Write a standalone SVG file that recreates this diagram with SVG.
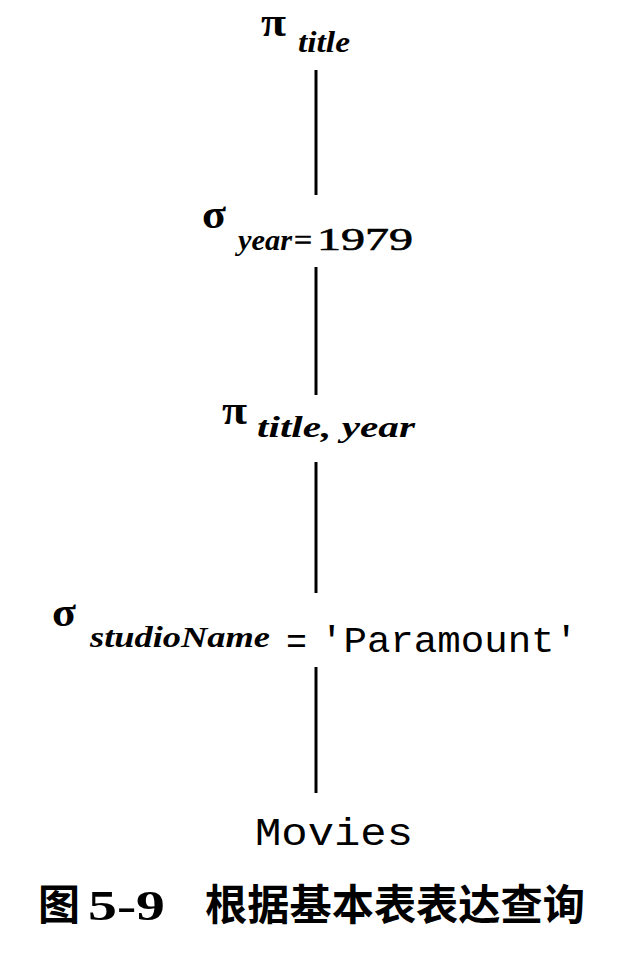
<svg xmlns="http://www.w3.org/2000/svg" width="622" height="962" viewBox="0 0 622 962">
<style>
.op{font-family:"Liberation Serif",serif;font-weight:bold;fill:#000}
.sub{font-family:"Liberation Serif",serif;font-style:italic;font-weight:bold;fill:#000}
.num{font-family:"Liberation Serif",serif;font-weight:normal;fill:#000;stroke:#000;stroke-width:0.6}
.mono{font-family:"Liberation Mono",monospace;fill:#000}
.cap{font-family:"Noto Sans CJK SC",sans-serif;font-weight:bold;fill:#000}
.capn{font-family:"Liberation Serif",serif;font-weight:bold;fill:#000}
.edge{stroke:#000;stroke-width:3;fill:none}
</style>
<rect width="622" height="962" fill="#fff"/>
<g id="connectors">
<line class="edge" x1="316" y1="70" x2="316" y2="195"/>
<line class="edge" x1="316" y1="267" x2="316" y2="395"/>
<line class="edge" x1="316" y1="462" x2="316" y2="593"/>
<line class="edge" x1="316" y1="667" x2="316" y2="793"/>
</g>
<g id="pi-title">
<text class="op" x="261" y="36" font-size="40" textLength="25" lengthAdjust="spacingAndGlyphs">π</text>
<text class="sub" x="298" y="52" font-size="30" textLength="52" lengthAdjust="spacingAndGlyphs">title</text>
</g>
<g id="sigma-year">
<text class="op" x="202" y="228" font-size="40" textLength="24" lengthAdjust="spacingAndGlyphs">σ</text>
<text class="sub" x="238" y="250" font-size="30" textLength="54" lengthAdjust="spacingAndGlyphs">year</text>
<text class="num" x="294" y="250" font-size="30" textLength="18" lengthAdjust="spacingAndGlyphs">=</text>
<text class="num" x="317" y="250" font-size="31" textLength="96" lengthAdjust="spacingAndGlyphs">1979</text>
</g>
<g id="pi-title-year">
<text class="op" x="222" y="424" font-size="40" textLength="25" lengthAdjust="spacingAndGlyphs">π</text>
<text class="sub" x="257" y="437" font-size="30" textLength="158" lengthAdjust="spacingAndGlyphs">title, year</text>
</g>
<g id="sigma-studio">
<text class="op" x="52" y="626" font-size="40" textLength="24" lengthAdjust="spacingAndGlyphs">σ</text>
<text class="sub" x="90" y="647" font-size="30" textLength="180" lengthAdjust="spacingAndGlyphs">studioName</text>
<text class="mono" x="286" y="653" font-size="36" textLength="21" lengthAdjust="spacingAndGlyphs">=</text>
<text class="mono" x="320" y="652" font-size="36" textLength="258" lengthAdjust="spacingAndGlyphs">'Paramount'</text>
</g>
<g id="movies">
<text class="mono" x="255" y="845" font-size="38" textLength="158" lengthAdjust="spacingAndGlyphs">Movies</text>
</g>
<g id="caption">
<text class="cap" x="38" y="920" font-size="42">图</text>
<text class="capn" x="88" y="920" font-size="42" textLength="77" lengthAdjust="spacingAndGlyphs">5-9</text>
<text class="cap" x="205" y="920" font-size="42" textLength="380" lengthAdjust="spacingAndGlyphs">根据基本表表达查询</text>
</g>
</svg>
